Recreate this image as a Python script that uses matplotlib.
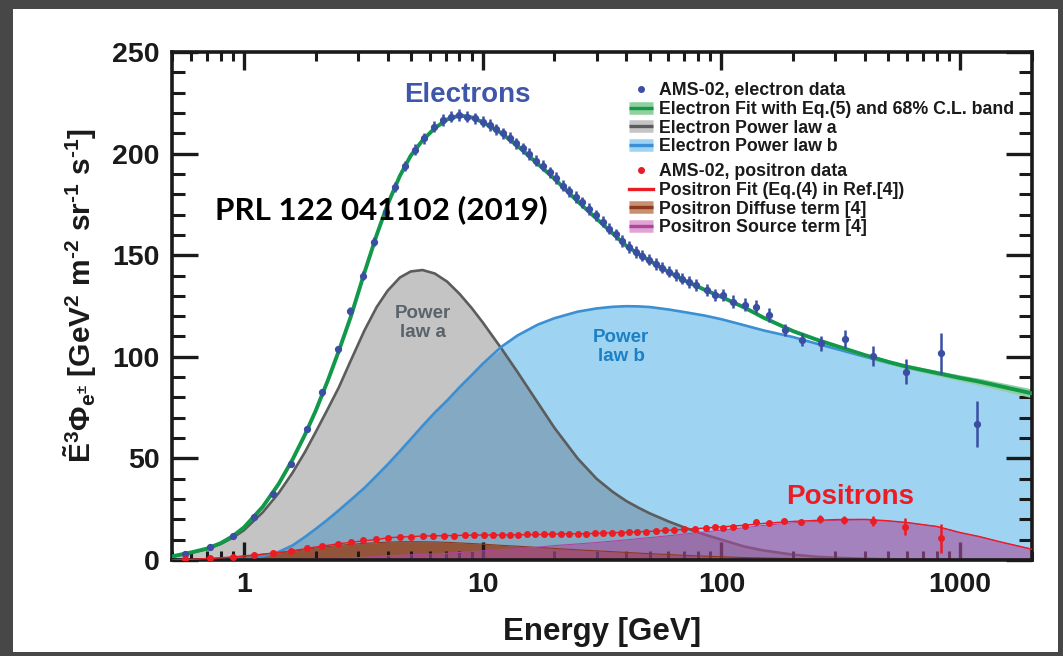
import numpy as np
import matplotlib
matplotlib.use("Agg")
import matplotlib.pyplot as plt
from matplotlib.lines import Line2D
from matplotlib.patches import Rectangle
from matplotlib.ticker import FixedLocator, FuncFormatter, LogLocator, MultipleLocator

plt.rcParams["font.family"] = ["Liberation Sans", "DejaVu Sans"]
plt.rcParams["font.weight"] = "bold"
plt.rcParams["mathtext.fontset"] = "custom"
plt.rcParams["mathtext.rm"] = "Liberation Sans:bold"
plt.rcParams["mathtext.it"] = "Liberation Sans:bold"
plt.rcParams["mathtext.bf"] = "Liberation Sans:bold"

# ---------------- model curves (E^3 x flux) on a common energy grid ----------------
grid_E = [0.5, 0.6, 0.7, 0.8, 0.9, 1.0, 1.2, 1.4, 1.6, 1.8, 2.0, 2.25, 2.5, 2.8, 3.2,
          3.6, 4.0, 4.5, 5.0, 5.6, 6.3, 7.1, 8.0, 9.0, 10, 12, 14, 17, 20, 25, 30, 35,
          40, 45, 50, 60, 70, 85, 100, 125, 150, 200, 250, 300, 400, 500, 600, 800,
          1000, 1200, 1500, 2000]

electron_fit = [1.8, 3.7, 5.6, 8.3, 11.8, 16.0, 26.2, 37.5, 49.5, 61.5, 73.5, 88.5, 103,
                119.5, 141.5, 160, 175, 189, 199, 206.5, 212.5, 216.8, 218.8, 217.8,
                215.5, 210, 203.8, 195, 187.6, 176.5, 168, 160.8, 154.6, 150.6, 147.3,
                141.8, 137.6, 133, 129.5, 124.2, 119.3, 112.6, 108.5, 105.5, 100.8, 97.5,
                95.1, 92, 89.6, 87.8, 85.3, 82.0]
electron_band = [0.1, 0.1, 0.1, 0.1, 0.1, 0.2, 0.2, 0.3, 0.3, 0.4, 0.4, 0.5, 0.5, 0.5,
                 0.6, 0.6, 0.6, 0.6, 0.6, 0.6, 0.6, 0.6, 0.6, 0.6, 0.6, 0.6, 0.6, 0.6,
                 0.6, 0.6, 0.6, 0.6, 0.6, 0.6, 0.6, 0.6, 0.6, 0.6, 0.6, 0.6, 0.6, 0.7,
                 0.7, 0.8, 0.9, 1.0, 1.1, 1.3, 1.5, 1.7, 1.9, 2.2]
power_law_a = [1.6, 3.5, 5.4, 7.9, 11.0, 14.6, 23.5, 33.0, 43.0, 53.0, 63.0, 74.5, 85,
               98, 113, 124.5, 132.5, 139, 142, 142.7, 141, 137, 131, 124, 117, 104,
               92.5, 77.5, 65, 50, 40, 33.6, 29, 25.7, 23, 19, 16, 12.5, 10, 6.6, 4.7,
               2.6, 1.6, 1.1, 0.6, 0.3, 0.2, 0.1, 0.05, 0.03, 0.02, 0.01]
power_law_b = [0, 0.05, 0.1, 0.2, 0.35, 0.6, 1.8, 4.0, 7.2, 11.3, 15.3, 20.0, 24.5,
               29.5, 35.5, 41.5, 47.0, 53.5, 59.5, 66, 72.5, 78.5, 85, 91, 96.5, 105,
               110.5, 115.8, 119, 122.2, 123.8, 124.6, 124.9, 124.8, 124.5, 123.3, 122,
               120.3, 118.5, 115.5, 113, 109.7, 106.5, 104, 100, 97, 94.7, 91.6, 89.2,
               87.4, 85, 81.7]
positron_diffuse = [0, 0.2, 0.6, 1.0, 1.4, 1.9, 2.8, 3.5, 4.3, 5.1, 5.9, 6.6, 7.2, 7.7,
                    8.2, 8.5, 8.8, 9.0, 9.0, 9.0, 8.9, 8.7, 8.4, 8.1, 7.8, 7.2, 6.8, 6.2,
                    5.7, 5.0, 4.5, 4.1, 3.7, 3.4, 3.1, 2.7, 2.3, 1.9, 1.6, 1.2, 1.0, 0.7,
                    0.5, 0.4, 0.3, 0.2, 0.15, 0.1, 0.1, 0.07, 0.05, 0.0]
positron_source = [0, 0.1, 0.1, 0.1, 0.1, 0.1, 0.1, 0.2, 0.3, 0.4, 0.5, 0.65, 0.8, 1.0,
                   1.3, 1.6, 2.1, 2.3, 2.5, 2.8, 3.0, 3.3, 3.7, 4.1, 4.5, 5.1, 5.6, 6.3,
                   7.1, 7.9, 8.6, 9.3, 9.9, 10.5, 11.0, 11.9, 12.8, 13.8, 14.7, 15.9,
                   17.0, 18.3, 19.0, 19.5, 19.7, 19.1, 18.3, 16.4, 13.4, 11.5, 8.65, 5.3]

# ---------------- AMS-02 electron data ----------------
ele_E = [0.565, 0.724, 0.902, 1.10, 1.33, 1.57, 1.83, 2.13, 2.47, 2.79, 3.16, 3.52, 3.94,
         4.30, 4.75, 5.23, 5.70, 6.24, 6.81, 7.39, 8.0, 8.6, 9.3, 10.0, 10.7, 11.4, 12.2,
         13.0, 13.8, 14.7, 15.7, 16.8, 17.9, 19.1, 20.3, 21.7, 23.1, 24.6, 26.2, 27.9,
         29.8, 31.8, 33.9, 36.1, 38.5, 41.0, 43.7, 46.6, 49.7, 53.0, 56.5, 60.3, 64.3,
         68.6, 73.2, 78.1, 86.9, 94.3, 102, 112, 125, 140, 158, 184, 217, 261, 330, 430,
         594, 835, 1178]
ele_flux = [3.0, 6.2, 12.0, 21.0, 32.3, 47.1, 64.6, 82.5, 103.7, 122.5, 140.0, 156.6,
            171.4, 183.7, 193.9, 201.8, 207.5, 213.2, 216.5, 218.2, 219.0, 218.2, 217.4,
            215.7, 214.0, 211.9, 209.9, 207.8, 205.0, 202.6, 199.8, 196.6, 194.0, 190.8,
            188.0, 184.2, 181.5, 178.6, 176.0, 172.8, 169.6, 166.5, 163.0, 160.2, 157.0,
            154.0, 151.6, 149.8, 147.8, 145.6, 143.8, 141.9, 140.3, 138.5, 136.9, 135.3,
            132.9, 130.4, 130.4, 127.1, 125.5, 124.7, 120.6, 113.2, 108.3, 106.6, 108.6,
            100.4, 92.7, 101.7, 66.8]
ele_err = [0.4, 0.5, 0.6, 0.8, 1.0, 1.2, 1.4, 1.6, 1.8, 2.0, 2.2, 2.3, 2.4, 2.5, 2.6,
           2.7, 2.8, 2.8, 2.8, 2.8, 2.8, 2.8, 2.8, 2.8, 2.8, 2.8, 2.8, 2.8, 2.8, 2.8,
           2.8, 2.8, 2.8, 2.8, 2.8, 2.8, 2.8, 2.8, 2.8, 2.8, 2.8, 2.8, 2.8, 2.8, 2.8,
           2.8, 2.8, 2.8, 2.8, 2.8, 2.8, 2.8, 2.8, 2.8, 2.8, 2.8, 2.9, 3.0, 3.0, 3.1,
           3.2, 3.3, 3.4, 3.0, 3.2, 3.7, 4.5, 5.0, 6.3, 10.0, 11.3]

# ---------------- AMS-02 positron data ----------------
pos_E = [0.565, 0.724, 0.902, 1.10, 1.33, 1.58, 1.83, 2.13, 2.47, 2.81, 3.16, 3.58, 4.0,
         4.5, 5.0, 5.6, 6.2, 6.9, 7.6, 8.4, 9.2, 10.1, 11.0, 12.0, 13.0, 14.1, 15.3,
         16.6, 18.0, 19.5, 21.2, 23.0, 25.0, 27.2, 29.5, 32.0, 34.8, 37.8, 41.0, 44.5,
         48.5, 53.0, 58.0, 63.5, 70.0, 77.5, 86.0, 94.0, 102, 112, 125, 139, 158, 183,
         216, 260, 327, 430, 590, 828]
pos_flux = [0.4, 0.8, 1.6, 2.5, 3.3, 4.4, 5.7, 6.9, 7.9, 8.9, 9.7, 10.5, 10.9, 11.2,
            11.4, 11.6, 11.8, 11.9, 12.0, 12.1, 12.2, 12.3, 12.4, 12.4, 12.5, 12.5, 12.6,
            12.6, 12.7, 12.7, 12.8, 12.8, 12.9, 13.0, 13.1, 13.2, 13.3, 13.4, 13.6, 13.8,
            14.0, 14.3, 14.6, 14.9, 15.2, 15.5, 15.8, 16.4, 15.6, 16.4, 16.7, 18.9, 18.0,
            19.2, 18.5, 20.2, 19.7, 19.2, 16.4, 10.7]
pos_err = [0.05, 0.05, 0.1, 0.1, 0.1, 0.1, 0.1, 0.1, 0.1, 0.1, 0.1, 0.1, 0.1, 0.1,
           0.1, 0.1, 0.1, 0.1, 0.1, 0.1, 0.1, 0.1, 0.1, 0.1, 0.1, 0.1, 0.1, 0.1, 0.1,
           0.1, 0.1, 0.1, 0.1, 0.1, 0.1, 0.1, 0.2, 0.2, 0.2, 0.2, 0.2, 0.2, 0.3, 0.3,
           0.3, 0.4, 0.4, 0.5, 0.5, 0.6, 0.7, 0.8, 0.9, 1.0, 1.2, 1.8, 2.0, 2.5, 4.1, 7.2]

x_ticks = [1, 10, 100, 1000]
y_ticks = [0, 50, 100, 150, 200, 250]

# ---------------- colours ----------------
C_GREEN = "#12984a"
C_GREEN_BAND = "#8fd19e"
C_GRAY_FILL = "#c4c4c4"
C_GRAY_LINE = "#5c5c5c"
C_BLUE_FILL = "#9ed3f1"
C_BLUE_LINE = "#3b8fd2"
C_OVERLAP = "#84a9c2"
C_ELE = "#3a4ea3"
C_POS = "#ec1c24"
C_DIFF = "#93553a"
C_DIFF_LINE = "#8b3a1f"
C_SRC = "#a74d9d"
C_SRC_LINE = "#b0449f"

E = np.array(grid_E)
a = np.array(power_law_a)
b = np.array(power_law_b)
fit = np.array(electron_fit)
band = np.array(electron_band)
dif = np.array(positron_diffuse)
src = np.array(positron_source)
pos_fit = dif + src

fig = plt.figure(figsize=(10.63, 6.56), dpi=100, facecolor="#474747")
fig.patches.append(Rectangle((13 / 1063, 1 - 652 / 656), (1058 - 13) / 1063, (652 - 9) / 656,
                             transform=fig.transFigure, facecolor="white",
                             edgecolor="none", zorder=-10))

ax = fig.add_axes([172 / 1063, 1 - 560 / 656, (1032 - 172) / 1063, (560 - 52) / 656])
ax.set_zorder(1)
ax.set_facecolor("white")
ax.set_xscale("log")
ax.set_xlim(0.5, 2000)
ax.set_ylim(0, 250)

# electron components
ax.fill_between(E, 0, a, color=C_GRAY_FILL, lw=0, zorder=1)
ax.fill_between(E, 0, b, color=C_BLUE_FILL, lw=0, zorder=1.1)
ax.fill_between(E, 0, np.minimum(a, b), color=C_OVERLAP, lw=0, zorder=1.2)

# positron components
ax.fill_between(E, 0, dif, color=C_DIFF, lw=0, zorder=1.5)
ax.fill_between(E, 0, src, color=C_SRC, alpha=0.6, lw=0, zorder=1.6)
ax.plot(E, dif, color=C_DIFF_LINE, lw=0.8, zorder=1.7)
ax.plot(E, src, color=C_SRC_LINE, lw=0.8, zorder=1.7)

ax.plot(E, a, color=C_GRAY_LINE, lw=1.9, zorder=1.4)
ax.plot(E, b, color=C_BLUE_LINE, lw=1.9, zorder=2)

# fits
ax.fill_between(E, fit - band, fit + band, color=C_GREEN_BAND, lw=0, zorder=2.5)
ax.plot(E, fit, color=C_GREEN, lw=2.8, zorder=3)
ax.plot(E, pos_fit, color=C_POS, lw=1.0, zorder=3)

# data
ax.errorbar(ele_E, ele_flux, yerr=ele_err, fmt="o", color=C_ELE, ms=4.2, elinewidth=1.8,
            capsize=0, zorder=4)
ax.errorbar(pos_E, pos_flux, yerr=pos_err, fmt="o", color=C_POS, ms=4.0, elinewidth=1.8,
            capsize=0, zorder=4)

# axes styling
for s in ax.spines.values():
    s.set_linewidth(2.6)
    s.set_color("#1a1a1a")
ax.xaxis.set_major_locator(FixedLocator(x_ticks))
ax.xaxis.set_minor_locator(LogLocator(base=10, subs=np.arange(2, 10)))
ax.xaxis.set_major_formatter(FuncFormatter(lambda v, p: "%g" % v))
ax.xaxis.set_minor_formatter(FuncFormatter(lambda v, p: ""))
ax.yaxis.set_major_locator(FixedLocator(y_ticks))
ax.yaxis.set_minor_locator(MultipleLocator(10))
ax.tick_params(which="both", direction="in", top=True, right=True, color="#1a1a1a")
ax.tick_params(axis="x", which="major", length=13, width=2.4, labelsize=20.5, pad=9)
ax.tick_params(axis="x", which="minor", length=6.5, width=2.2)
ax.tick_params(axis="y", which="major", length=19, width=2.4, labelsize=20.5, pad=9)
ax.tick_params(axis="y", which="minor", length=9.5, width=2.2)
for lab in ax.get_xticklabels() + ax.get_yticklabels():
    lab.set_fontweight("bold")
    lab.set_color("#1a1a1a")

ax.set_xlabel("Energy [GeV]", fontsize=22.5, fontweight="bold", color="#1a1a1a",
              labelpad=13)
ax.set_ylabel(r"$\tilde{\mathrm{E}}^3\Phi_{\mathrm{e}^{\pm}}$ [GeV$^2$ m$^{\text{-}2}$ "
              r"sr$^{\text{-}1}$ s$^{\text{-}1}$]",
              fontsize=21.5, fontweight="bold", color="#1a1a1a")
ax.yaxis.set_label_coords(-0.085, 0.52)

# annotations
ax.text(8.6, 229, "Electrons", color="#3f57a8", fontsize=20, fontweight="bold",
        ha="center", va="center")
ax.text(345, 31, "Positrons", color=C_POS, fontsize=20, fontweight="bold",
        ha="center", va="center")
ax.text(5.6, 116.5, "Power\nlaw a", color="#59636b", fontsize=13.5, fontweight="bold",
        ha="center", va="center", linespacing=1.15)
ax.text(38, 105, "Power\nlaw b", color="#1d7fc4", fontsize=13.5, fontweight="bold",
        ha="center", va="center", linespacing=1.15)
fig.text(215 / 1063, 1 - 210 / 656, "PRL 122 041102 (2019)", color="black", fontsize=22.6,
         fontweight="bold", family=["Lato", "DejaVu Sans"], ha="left", va="center",
         zorder=5)

# legends
def band_handle(light, dark):
    return (Line2D([], [], color=light, lw=9, solid_capstyle="butt"),
            Line2D([], [], color=dark, lw=2.4, solid_capstyle="butt"))

h1 = [Line2D([], [], marker="o", ls="none", color=C_ELE, ms=4),
      band_handle(C_GREEN_BAND, C_GREEN),
      band_handle(C_GRAY_FILL, C_GRAY_LINE),
      band_handle(C_BLUE_FILL, C_BLUE_LINE)]
l1 = ["AMS-02, electron data", "Electron Fit with Eq.(5) and 68% C.L. band",
      "Electron Power law a", "Electron Power law b"]
h2 = [Line2D([], [], marker="o", ls="none", color=C_POS, ms=4),
      Line2D([], [], color=C_POS, lw=2.4),
      band_handle("#c98f70", C_DIFF_LINE),
      band_handle("#e0a3d3", C_SRC_LINE)]
l2 = ["AMS-02, positron data", "Positron Fit (Eq.(4) in Ref.[4])",
      "Positron Diffuse term [4]", "Positron Source term [4]"]

leg_kw = dict(frameon=False, handlelength=1.35, handletextpad=0.35,
              labelspacing=0.1, borderpad=0, borderaxespad=0, loc="upper left",
              prop={"weight": "bold", "size": 12.8})
leg1 = ax.legend(h1, l1, bbox_to_anchor=(629 / 1063, 1 - 82 / 656),
                 bbox_transform=fig.transFigure, **leg_kw)
ax.add_artist(leg1)
leg2 = ax.legend(h2, l2, bbox_to_anchor=(629 / 1063, 1 - 163 / 656),
                 bbox_transform=fig.transFigure, **leg_kw)
for lg in (leg1, leg2):
    lg.set_zorder(6)
    for t in lg.get_texts():
        t.set_color("#1a1a1a")

fig.savefig("out.png", dpi=100, facecolor=fig.get_facecolor())
